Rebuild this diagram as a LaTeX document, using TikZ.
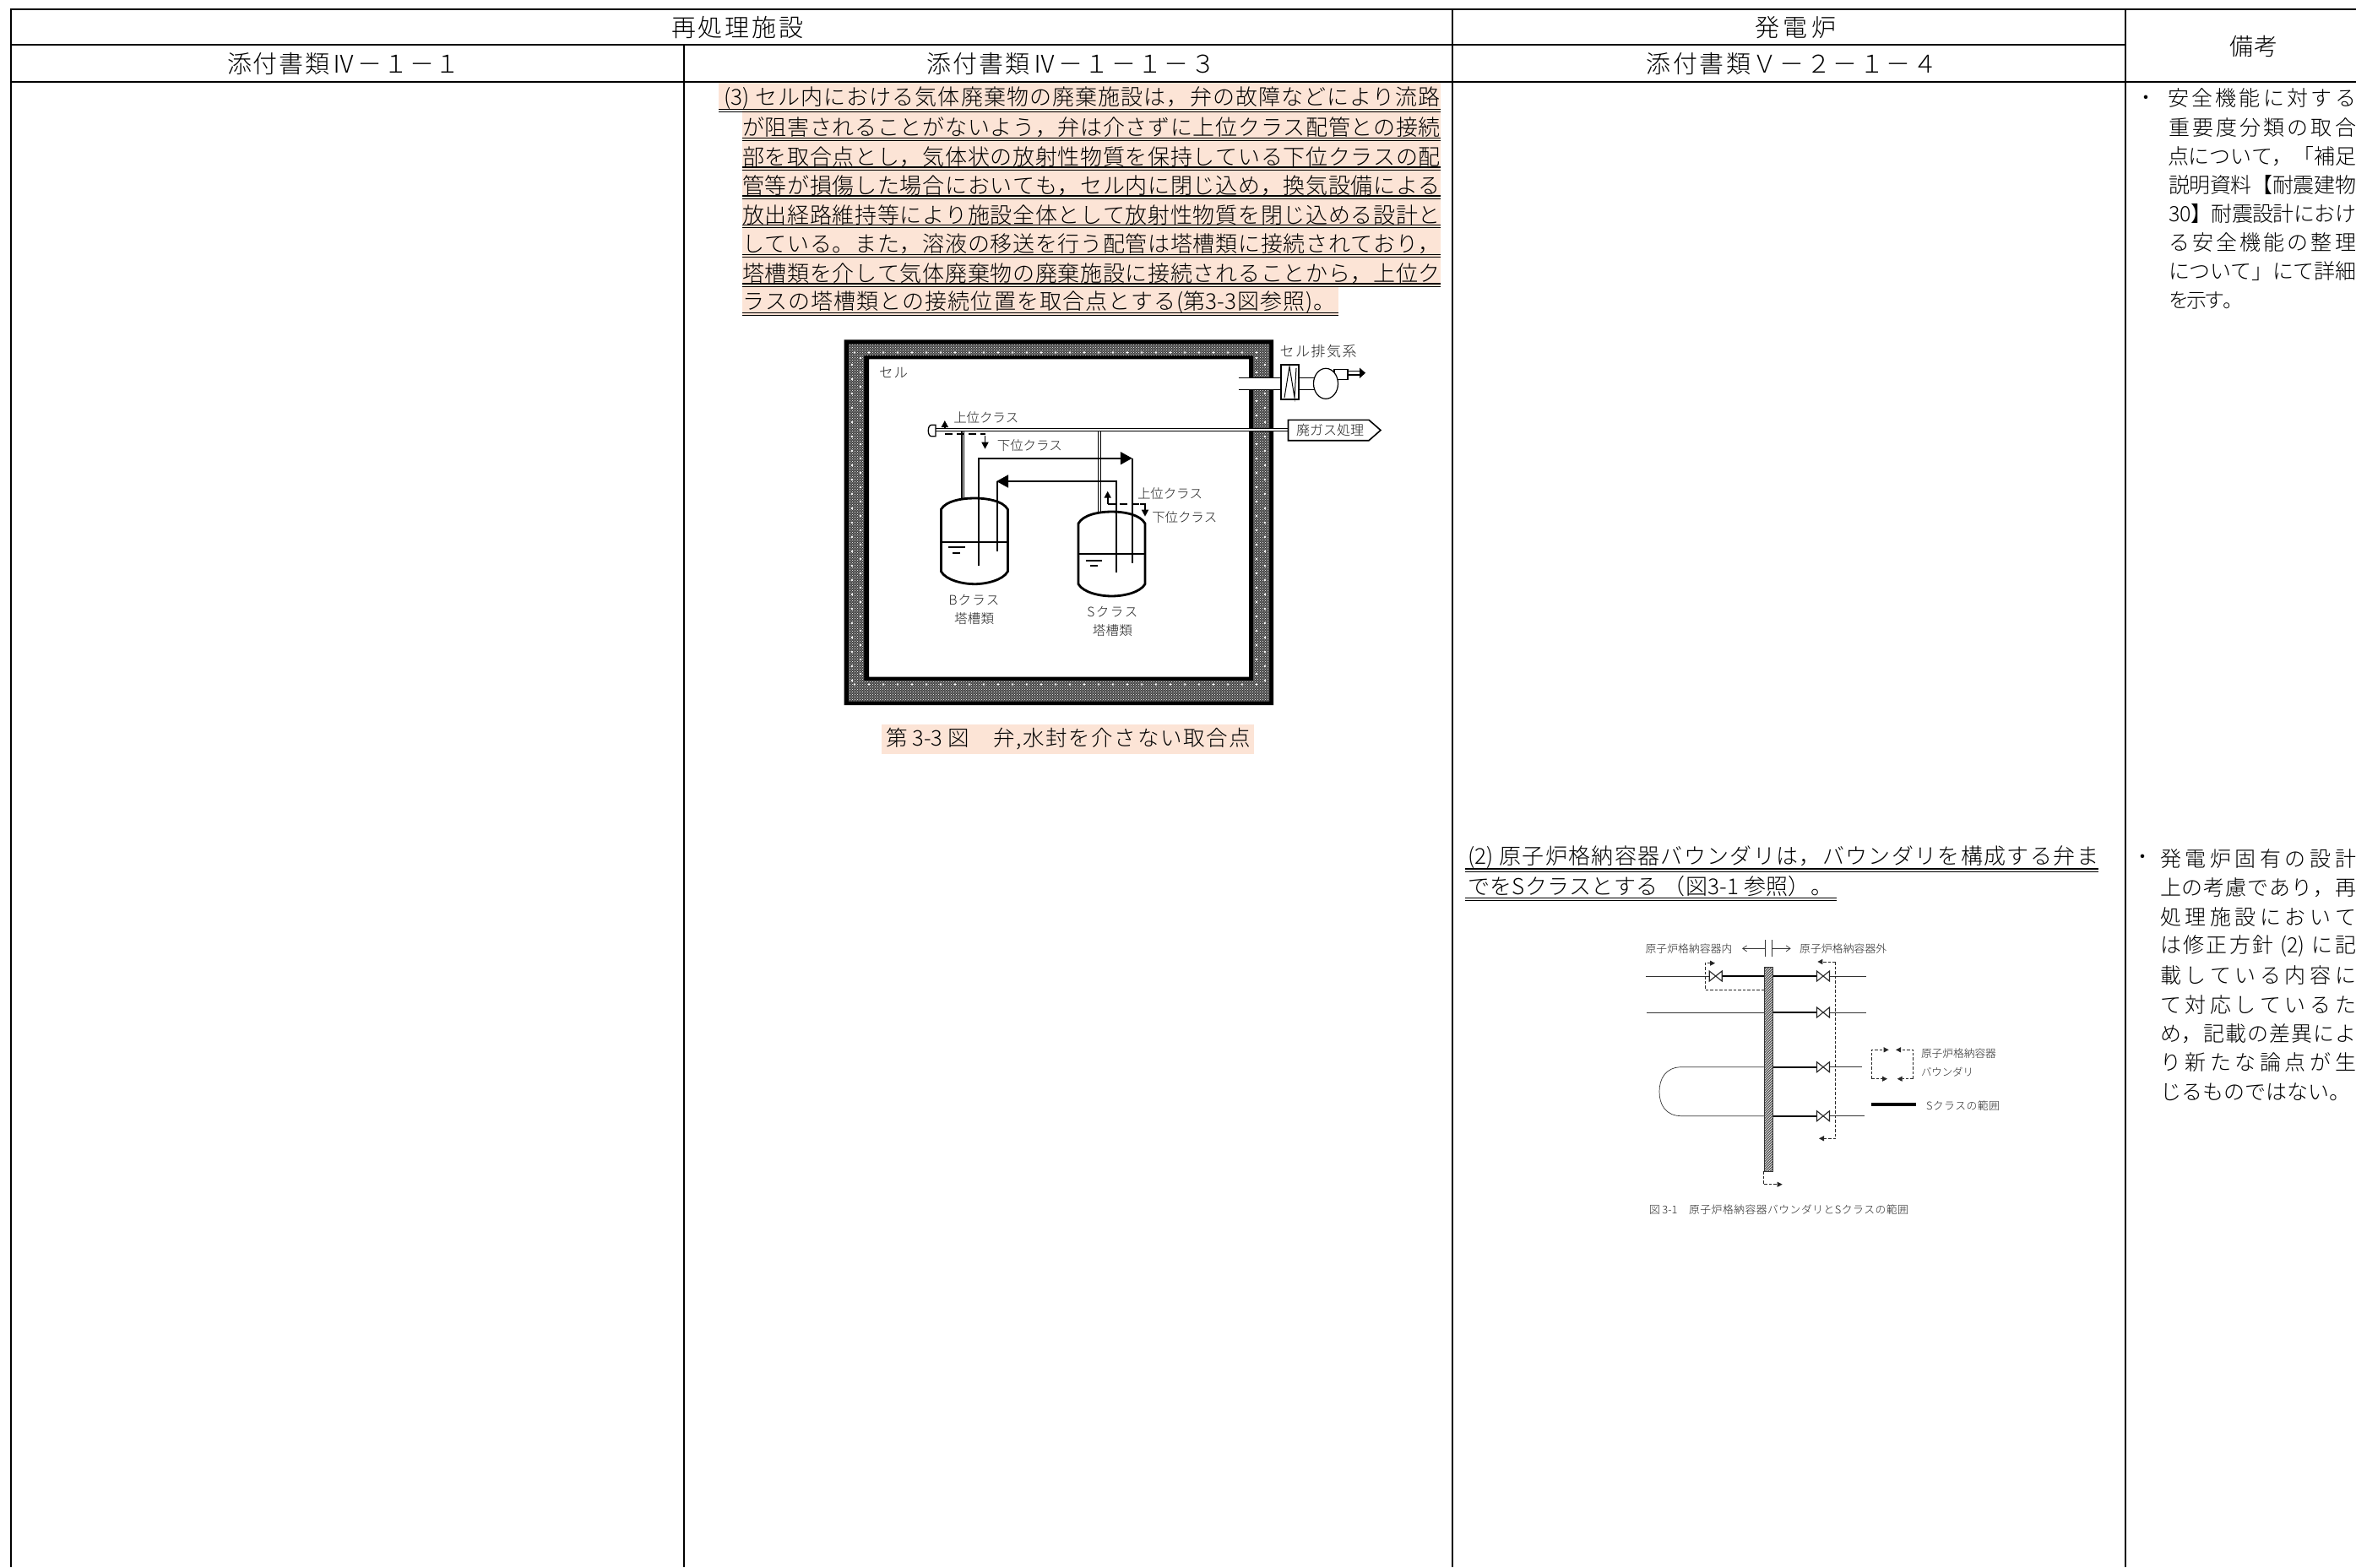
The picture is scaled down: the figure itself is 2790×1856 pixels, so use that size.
\documentclass[tikz,border=0pt]{standalone}
\usepackage{fontspec}
\usetikzlibrary{arrows.meta,patterns}
\setmainfont{Noto Sans CJK JP}[UprightFont=* Light]
\ExplSyntaxOn
\NewDocumentCommand\spaced{mm}{\hbox to #1{\tl_map_inline:nn{#2}{##1\hskip 0pt plus 1fil minus 1fil\relax}\unskip}}
\ExplSyntaxOff
\definecolor{peach}{HTML}{FCE4D6}
\newcommand\jw[6]{\node[txt,anchor=west] (#1) at (#2,#3) {\fontsize{#5}{#5}\selectfont\spaced{#4pt}{#6}};}
\newcommand\jc[6]{\node[txt,anchor=center] (#1) at (#2,#3) {\fontsize{#5}{#5}\selectfont\spaced{#4pt}{#6}};}
\newcommand\dul[3]{\draw[dbl] (#1,#3-1.6) -- (#2,#3-1.6); \draw[dbl] (#1,#3+1.6) -- (#2,#3+1.6);}
\newcommand\valve[2]{\draw[vlv] ({#1-7.5},{#2-6}) -- ({#1+7.5},{#2+6}) -- ({#1+7.5},{#2-6}) -- ({#1-7.5},{#2+6}) -- cycle;}
\tikzset{
  txt/.style={inner sep=0pt,outer sep=0pt},
  grid/.style={line width=2pt,black},
  dbl/.style={line width=1.2pt,black},
  pipe/.style={line width=1.7pt,black},
  tank/.style={line width=2.8pt,black,fill=none},
  dpipe/.style={draw=black,double=white,line width=1.1pt,double distance=1.8pt},
  bigtip/.style={-{Triangle[length=14pt,width=15pt]}},
  midtip/.style={-{Triangle[length=8pt,width=8pt]}},
  smalltip/.style={-{Triangle[length=6pt,width=6pt]}},
  dsh/.style={line width=1.8pt,dash pattern=on 9pt off 5pt},
  thinp/.style={line width=0.7pt,black!80},
  thick2/.style={line width=2.2pt,black},
  vlv/.style={line width=1.1pt,black!85,fill=white},
  dsh2/.style={line width=0.9pt,black!85,dash pattern=on 3.5pt off 2pt},
}
\begin{document}
\begin{tikzpicture}[x=1pt,y=-1pt]
\useasboundingbox (0,0) rectangle (2790,1856);
% table grid
\draw[grid] (2790,11) -- (12.6,11) -- (12.6,1856);
\draw[grid] (12.6,53) -- (2517,53);
\draw[grid] (12.6,97) -- (2790,97);
\draw[grid] (810,53) -- (810,1856);
\draw[grid] (1720,11) -- (1720,1856);
\draw[grid] (2517,11) -- (2517,1856);
% header texts
\jc{h1}{873}{33}{156}{29}{再処理施設}
\jc{h2}{2126}{33}{96}{29}{発電炉}
\jc{h3}{2669}{55}{57}{28}{備考}
\jc{h4}{407}{76}{276}{29}{添付書類Ⅳ－１－１}
\jc{h5}{1268}{76}{342}{29}{添付書類Ⅳ－１－１－３}
\jc{h6}{2122}{76}{345}{29}{添付書類Ｖ－２－１－４}
% highlighted paragraph
\fill[peach] (851,98) rectangle (1706,131);
\fill[peach] (879,131) rectangle (1706,340);
\fill[peach] (879,340) rectangle (1585,374);
\jw{a1}{857}{116.5}{849}{26}{{(3)\ }セル内における気体廃棄物の廃棄施設は，弁の故障などにより流路}
\jw{a2}{879}{151}{827}{26}{が阻害されることがないよう，弁は介さずに上位クラス配管との接続}
\jw{a3}{879}{185.5}{827}{26}{部を取合点とし，気体状の放射性物質を保持している下位クラスの配}
\jw{a4}{879}{220}{827}{26}{管等が損傷した場合においても，セル内に閉じ込め，換気設備による}
\jw{a5}{879}{254.5}{827}{26}{放出経路維持等により施設全体として放射性物質を閉じ込める設計と}
\jw{a6}{879}{289}{827}{26}{している。また，溶液の移送を行う配管は塔槽類に接続されており，}
\jw{a7}{879}{323.5}{827}{26}{塔槽類を介して気体廃棄物の廃棄施設に接続されることから，上位ク}
\jw{a8}{879}{358}{702}{26}{ラスの塔槽類との接続位置を取合点とする{(第3-3}図参照{)。}}
\dul{851}{1706}{130.8}
\dul{879}{1706}{165}
\dul{879}{1706}{199.5}
\dul{879}{1706}{233.5}
\dul{879}{1706}{268}
\dul{879}{1706}{303}
\dul{879}{1706}{337.5}
\dul{879}{1585}{372}
% cell wall
\fill[black,even odd rule] (999.5,402.3) rectangle (1508,835) (1029,425.3) rectangle (1479,801.7);
\fill[black!72,even odd rule] (1005,407.3) rectangle (1503,830.7) (1023,421) rectangle (1484,806);
\fill[pattern=crosshatch dots,pattern color=white,even odd rule] (1005,407.3) rectangle (1503,830.7) (1023,421) rectangle (1484,806);
\foreach \y in {424,441,...,810} {\fill[white] (1019,\y) circle (1.3pt); \fill[white] (1488,\y) circle (1.3pt);}
\foreach \y in {432,449,...,810} {\fill[white] (1009,\y) circle (1.3pt); \fill[white] (1498,\y) circle (1.3pt);}
\foreach \x in {1012,1029,...,1500} {\fill[white] (\x,417.5) circle (1.3pt); \fill[white] (\x,810.5) circle (1.3pt);}
% exhaust
\fill[white] (1466.5,447.3) rectangle (1517,461.7);
\draw[pipe,line width=1.2pt] (1466.5,447.3) -- (1517,447.3) (1466.5,461.7) -- (1517,461.7);
\draw[pipe,fill=white] (1517,432.3) rectangle (1538,472.7);
\draw[line width=1pt] (1521,471) -- (1527,434) -- (1533,471) -- (1535,436);
\draw[pipe,line width=1.2pt] (1538,447.3) -- (1557,447.3) (1538,461.7) -- (1557,461.7);
\draw[pipe,line width=1.2pt,fill=white] (1580,437.3) rectangle (1596,449.3);
\draw[pipe,line width=1.2pt,fill=white] (1570,454.3) ellipse (14.5pt and 18pt);
\draw[line width=1.2pt] (1596,439.5) -- (1611,439.5) (1596,444) -- (1611,444);
\fill (1610,435.5) -- (1617,441.7) -- (1610,448) -- cycle;
% header pipe
\draw[dpipe] (1108,509.2) -- (1525.5,509.2);
\draw[pipe,line width=1.3pt,fill=white] (1108,503.3) -- (1103,503.3) .. controls (1098,503.3) and (1098,516.7) .. (1103,516.7) -- (1108,516.7) -- cycle;
\draw[pipe,line width=1.6pt,fill=white] (1525.5,497.3) -- (1621,497.3) -- (1635,509.5) -- (1621,521.7) -- (1525.5,521.7) -- cycle;
\draw[dpipe] (1140.4,511) -- (1140.4,590);
\draw[dpipe] (1301.8,511) -- (1301.8,606.7);
% tanks
\draw[tank] (1114.4,603.3) .. controls (1120,593) and (1140,590) .. (1153.9,590) .. controls (1168,590) and (1188,593) .. (1193.4,603.3) -- (1193.4,676.7) .. controls (1188,687) and (1168,691.7) .. (1153.9,691.7) .. controls (1140,691.7) and (1120,687) .. (1114.4,676.7) -- cycle;
\draw[pipe] (1114.4,642.3) -- (1193.4,642.3);
\draw[pipe] (1123,648.3) -- (1142.6,648.3) (1128.3,655) -- (1137,655);
\draw[tank] (1277,620) .. controls (1283,609) and (1303,606) .. (1316.5,606) .. controls (1330,606) and (1350,609) .. (1356,620) -- (1356,691.7) .. controls (1350,702) and (1330,706) .. (1316.5,706) .. controls (1303,706) and (1283,702) .. (1277,691.7) -- cycle;
\draw[pipe] (1277,656) -- (1356,656);
\draw[pipe] (1285.7,664) -- (1305.2,664) (1291,670) -- (1300,670);
% process lines
\draw[pipe,bigtip] (1159,670) -- (1159,542.7) -- (1340.8,542.7);
\draw[pipe] (1340.8,542.7) -- (1340.8,666.7);
\draw[pipe,bigtip] (1321.7,678.3) -- (1321.7,570) -- (1180,570);
\draw[pipe] (1181,570) -- (1181,652.7);
% class arrows
\draw[pipe,midtip] (1118.8,507) -- (1118.8,498);
\draw[dsh] (1118.8,514.3) -- (1166.5,514.3);
\draw[pipe,midtip] (1166.5,516) -- (1166.5,531.7);
\draw[pipe,midtip] (1311.7,597.3) -- (1311.7,581.7);
\draw[dsh] (1311.7,597.3) -- (1350,597.3);
\draw[pipe,midtip] (1350,597.3) -- (1356,597.3) -- (1356,611.7);
% figure labels
\begin{scope}[every node/.append style={text=black!88}]
\jc{c1}{1058}{441.7}{34}{16.5}{セル}
\jc{c2}{1561}{416}{91}{17}{セル排気系}
\jc{c3}{1575}{509}{80}{16}{廃ガス処理}
\jc{c4}{1167.8}{494.3}{77}{15.5}{上位クラス}
\jc{c5}{1219.4}{527.3}{77}{15.5}{下位クラス}
\jc{c6}{1385.5}{585}{77}{15.5}{上位クラス}
\jc{c7}{1402.8}{612.7}{77}{15.5}{下位クラス}
\jc{c8}{1153.5}{711}{60}{15.5}{Bクラス}
\jc{c9}{1153.5}{732.7}{47}{15.5}{塔槽類}
\jc{c10}{1317.4}{725}{60}{15.5}{Sクラス}
\jc{c11}{1317.4}{746.7}{47}{15.5}{塔槽類}
\end{scope}
% caption fig 3-3
\fill[peach] (1044,857.7) rectangle (1485,892.7);
\jc{cap1}{1265}{875.5}{432}{25.5}{第{\,3-3\,}図{　}弁{,}水封を介さない取合点}
% paragraph (2)
\jw{b1}{1738}{1015}{747}{26}{{(2)\ }原子炉格納容器バウンダリは，バウンダリを構成する弁ま}
\jw{b2}{1738}{1050}{432}{26}{でをSクラスとする{\ }（図{3-1\ }参照）。}
\dul{1735}{2485}{1030.5}
\dul{1735}{2175}{1065}
% figure 3-1
\begin{scope}[every node/.append style={text=black!85}]
\jc{d1}{2000}{1123.3}{103}{12.8}{原子炉格納容器内}
\jc{d2}{2182.7}{1123.3}{103}{12.8}{原子炉格納容器外}
\jw{d3}{2275}{1248}{89}{12.8}{原子炉格納容器}
\jw{d4}{2275}{1269.3}{62}{12.5}{バウンダリ}
\jw{d5}{2281}{1310}{87}{12.8}{Sクラスの範囲}
\jw{d6}{1953}{1433}{307}{12.8}{図{\,3-1}{　}原子炉格納容器バウンダリとSクラスの範囲}
\end{scope}
\draw[thinp] (2090,1113) -- (2090,1133) (2098,1113) -- (2098,1133);
\draw[thinp,-{Straight Barb[length=5pt,width=7pt]}] (2090,1123.3) -- (2063,1123.3);
\draw[thinp,-{Straight Barb[length=5pt,width=7pt]}] (2098,1123.3) -- (2120.7,1123.3);
\draw[thinp] (1949,1156) -- (2024,1156) (2167,1156) -- (2210,1156);
\draw[thinp] (1950,1199) -- (2089,1199) (2167,1199) -- (2210,1199);
\draw[thinp] (2089,1263.7) -- (1991.7,1263.7) .. controls (1972,1263.7) and (1965,1278) .. (1965,1292.7) .. controls (1965,1308) and (1972,1321.7) .. (1991.7,1321.7) -- (2089,1321.7);
\draw[thinp] (2167,1263.7) -- (2205,1263.7) (2167,1321.7) -- (2208,1321.7);
\draw[thick2] (2039,1156) -- (2089,1156) (2099,1156) -- (2152,1156);
\draw[thick2] (2099,1199) -- (2152,1199) (2099,1263.7) -- (2152,1263.7) (2099,1321.7) -- (2152,1321.7);
\valve{2031.7}{1156}
\valve{2159}{1156}
\valve{2159}{1199}
\valve{2159}{1263.7}
\valve{2159}{1321.7}
\fill[black!65] (2089,1145.7) rectangle (2099,1387.3);
\fill[pattern=north east lines,pattern color=white] (2089,1145.7) rectangle (2099,1387.3);
\draw[line width=0.7pt,black!80] (2089,1145.7) rectangle (2099,1387.3);
\draw[dsh2,smalltip] (2089,1172.7) -- (2019.3,1172.7) -- (2019.3,1140.7) -- (2031,1140.7);
\draw[dsh2,smalltip] (2173.7,1139) -- (2152.3,1139);
\draw[dsh2,smalltip] (2173.7,1139) -- (2173.7,1348.3) -- (2154,1348.3);
\draw[dsh2,smalltip] (2088.3,1387.3) -- (2088.3,1402.7) -- (2110.7,1402.7);
\draw[dsh2,smalltip] (2216,1277.7) -- (2216,1243.3) -- (2236.7,1243.3);
\draw[dsh2,smalltip] (2216,1277.7) -- (2235,1277.7);
\draw[dsh2,smalltip] (2265.7,1277.7) -- (2265.7,1243.3) -- (2245,1243.3);
\draw[dsh2,smalltip] (2265.7,1277.7) -- (2246.7,1277.7);
\draw[line width=4pt] (2216,1308) -- (2269.3,1308);
% remarks column
\node[txt] (r0) at (2541,119) {\fontsize{24}{24}\selectfont ・};
\jw{r1}{2567}{116.5}{223}{25}{安全機能に対する}
\jw{r2}{2568}{151}{222}{25}{重要度分類の取合}
\jw{r3}{2567}{185}{223}{25}{点について，「補足}
\jw{r4}{2568}{219}{222}{25}{説明資料【耐震建物}
\jw{r5}{2568}{253}{222}{25}{{30}】耐震設計におけ}
\jw{r6}{2568}{287}{222}{25}{る安全機能の整理}
\jw{r7}{2568}{321.5}{222}{25}{について」にて詳細}
\jw{r8}{2568}{356}{88}{24}{を示す。}
\node[txt] (s0) at (2537,1017.7) {\fontsize{24}{24}\selectfont ・};
\jw{s1}{2558}{1016.7}{232}{25}{発電炉固有の設計}
\jw{s2}{2558}{1051.5}{232}{25}{上の考慮であり，再}
\jw{s3}{2558}{1086}{232}{25}{処理施設において}
\jw{s4}{2558}{1120.5}{232}{25}{は修正方針{\ (2)\ }に記}
\jw{s5}{2558}{1155}{232}{25}{載している内容に}
\jw{s6}{2558}{1189.5}{232}{25}{て対応しているた}
\jw{s7}{2558}{1224}{232}{25}{め，記載の差異によ}
\jw{s8}{2558}{1258.5}{232}{25}{り新たな論点が生}
\jw{s9}{2558}{1293}{225}{25}{じるものではない。}
\end{tikzpicture}
\end{document}
